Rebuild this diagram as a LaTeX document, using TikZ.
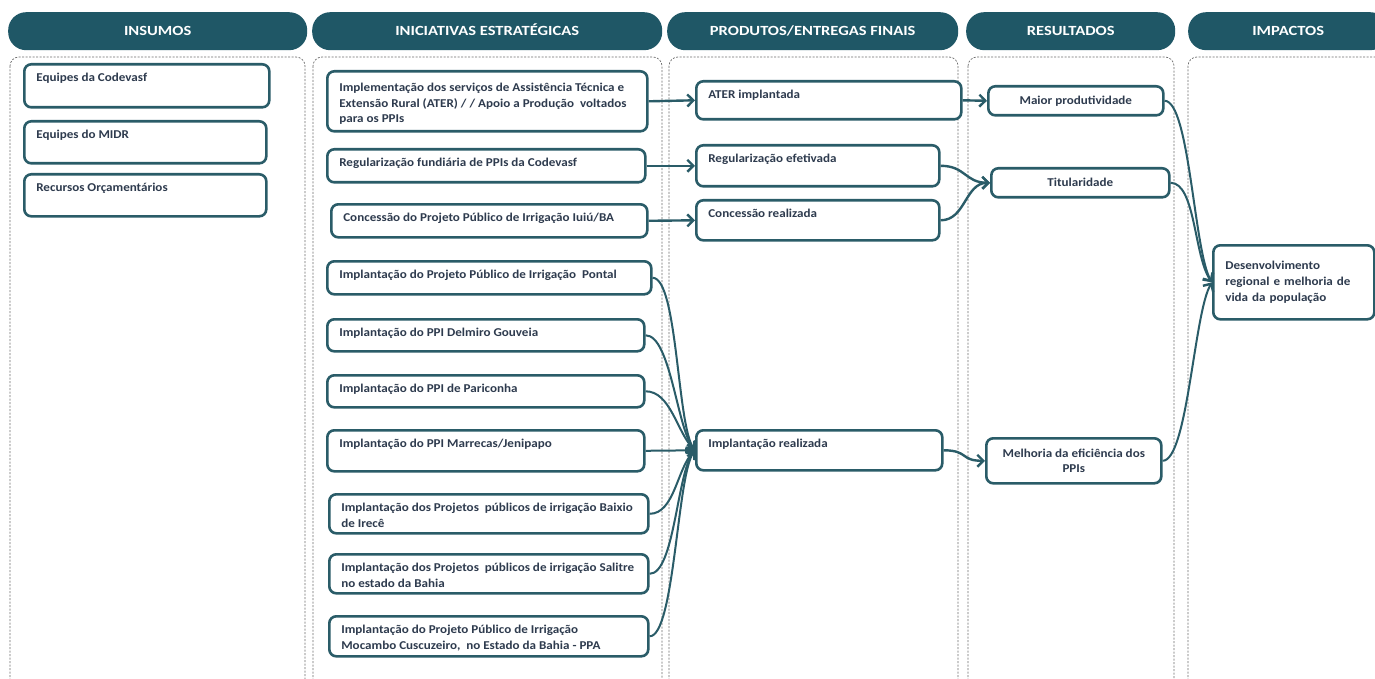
\documentclass[tikz,border=0pt]{standalone}
\usepackage{fontspec}
\setmainfont{Carlito}
\newfontfamily\bodyfont{Carlito}[FakeStretch=1.09]
\newfontfamily\hdrfont{Carlito}[FakeStretch=1.18]
\usetikzlibrary{arrows.meta}
\definecolor{hdrfill}{HTML}{1F5766}
\definecolor{stroke}{HTML}{2A5C68}
\definecolor{txtc}{HTML}{2E3B4E}
\definecolor{dashc}{HTML}{6E6E6E}
\tikzset{
  hdr/.style={fill=hdrfill, draw=none, rounded corners=18pt, text=white, font=\hdrfont\fontsize{14}{16}\selectfont\bfseries, anchor=north west, minimum height=38pt, inner sep=0pt, text height=9pt, text depth=0pt},
  col/.style={draw=dashc, line width=0.7pt, dash pattern=on 2pt off 1.5pt, rounded corners=9pt},
  box/.style={draw=stroke, line width=2.6pt, rounded corners=7pt, fill=white, inner xsep=12pt, inner ysep=0pt, anchor=north west, text=txtc, font=\bodyfont\fontsize{12}{15.8}\selectfont\bfseries},
  cbox/.style={box, align=center},
  conn/.style={draw=stroke, line width=2.4pt, -{Straight Barb[length=6pt,width=12pt,line width=2.4pt]}},
  fan/.style={draw=stroke, line width=2pt, -{Straight Barb[length=6pt,width=12pt,line width=2.4pt]}}
}
\newcommand\bx[7]{\node[box, minimum width=#4pt, minimum height=#5pt] (#1) at (#2,#3) {\parbox[c][#5pt][t]{\dimexpr#4pt-24pt\relax}{#6\vspace*{9pt}#7\par}};}
\begin{document}
\begin{tikzpicture}[x=1pt,y=-1pt]
\useasboundingbox (0,0) rectangle (1375,679);
\fill[white] (0,0) rectangle (1375,679);
% column frames
\draw[col] (10,57) rectangle (305,700);
\draw[col] (313,57) rectangle (662,700);
\draw[col] (669,57) rectangle (958,700);
\draw[col] (968,57) rectangle (1174,700);
\draw[col] (1188,57) rectangle (1400,700);
% headers
\node[hdr, minimum width=299pt] (h1) at (8,12) {INSUMOS};
\node[hdr, minimum width=350pt] (h2) at (312,12) {INICIATIVAS ESTRATÉGICAS};
\node[hdr, minimum width=291pt] (h3) at (667,12) {PRODUTOS/ENTREGAS FINAIS};
\node[hdr, minimum width=209pt] (h4) at (966,12) {RESULTADOS};
\node[hdr, minimum width=200pt] (h5) at (1188,12) {IMPACTOS};
% insumos
\bx{in1}{23}{63}{245}{43}{\raggedright}{Equipes da Codevasf}
\bx{in2}{23}{120}{242}{42}{\raggedright}{Equipes do MIDR}
\bx{in3}{23}{173}{242}{42}{\raggedright}{Recursos Orçamentários}
% iniciativas
\bx{i1}{326}{70}{320}{60}{\raggedright\vspace*{2.5pt}}{Implementação dos serviços de Assistência Técnica e\\ Extensão Rural (ATER) / / Apoio a Produção~ voltados\\ para os PPIs}
\bx{i2}{326}{148}{318}{33}{\raggedright}{Regularização fundiária de PPIs da Codevasf}
\bx{i3}{330}{203}{316}{33}{\raggedright}{Concessão do Projeto Público de Irrigação Iuiú/BA}
\bx{i4}{326}{260}{324}{33}{\raggedright}{Implantação do Projeto Público de Irrigação~ Pontal}
\bx{i5}{326}{318}{317}{32}{\raggedright}{Implantação do PPI Delmiro Gouveia}
\bx{i6}{326}{374}{317}{32}{\raggedright}{Implantação do PPI de Pariconha}
\bx{i7}{326}{429}{317}{41}{\raggedright}{Implantação do PPI Marrecas/Jenipapo}
\bx{i8}{328}{493}{319}{39}{\raggedright}{Implantação dos Projetos~ públicos de irrigação Baixio\\ de Irecê}
\bx{i9}{328}{553}{319}{39}{\raggedright}{Implantação dos Projetos~ públicos de irrigação Salitre\\ no estado da Bahia}
\bx{i10}{328}{615}{319}{40}{\raggedright}{Implantação do Projeto Público de Irrigação\\ Mocambo Cuscuzeiro,~ no Estado da Bahia - PPA}
% produtos
\bx{p1}{695}{80}{265}{38}{\raggedright}{ATER implantada}
\bx{p2}{695}{144}{243}{41}{\raggedright}{Regularização efetivada}
\bx{p3}{695}{199}{243}{40}{\raggedright}{Concessão realizada}
\bx{p4}{695}{429}{246}{40}{\raggedright}{Implantação realizada}
% resultados
\node[cbox, minimum width=175pt, minimum height=29pt] (r1) at (987,85) {Maior produtividade};
\node[cbox, minimum width=178pt, minimum height=29pt] (r2) at (990,167) {Titularidade};
\node[cbox, minimum width=175pt, minimum height=45pt] (r3) at (985,437) {Melhoria da eficiência dos\\ PPIs};
% impactos
\node[box, align=left, minimum width=161pt, minimum height=74pt, text width=137pt] (m1) at (1212,244) {Desenvolvimento\\ regional e melhoria de\\ vida da população};
% connectors
\draw[conn] (i1.east) -- (p1.west);
\draw[conn] (i2.east) -- (p2.west);
\draw[conn] (i3.east) -- (p3.west);
\draw[fan] (i4.east) .. controls +(25,0) and +(-18,-25) .. (p4.west);
\draw[fan] (i5.east) .. controls +(25,0) and +(-18,-22) .. (p4.west);
\draw[fan] (i6.east) .. controls +(25,0) and +(-18,-18) .. (p4.west);
\draw[fan] (i7.east) -- (p4.west);
\draw[fan] (i8.east) .. controls +(25,0) and +(-18,18) .. (p4.west);
\draw[fan] (i9.east) .. controls +(25,0) and +(-18,22) .. (p4.west);
\draw[fan] (i10.east) .. controls +(25,0) and +(-18,25) .. (p4.west);
\draw[conn] (p1.east) -- (r1.west);
\draw[conn] (p2.east) .. controls +(25,0) and +(-25,0) .. (r2.west);
\draw[conn] (p3.east) .. controls +(25,0) and +(-25,0) .. (r2.west);
\draw[conn] (p4.east) .. controls +(25,0) and +(-25,0) .. (r3.west);
\draw[fan] (r1.east) .. controls +(25,0) and +(-18,-30) .. (m1.west);
\draw[fan] (r2.east) .. controls +(25,0) and +(-18,-25) .. (m1.west);
\draw[fan] (r3.east) .. controls +(25,0) and +(-18,30) .. (m1.west);
\end{tikzpicture}
\end{document}
